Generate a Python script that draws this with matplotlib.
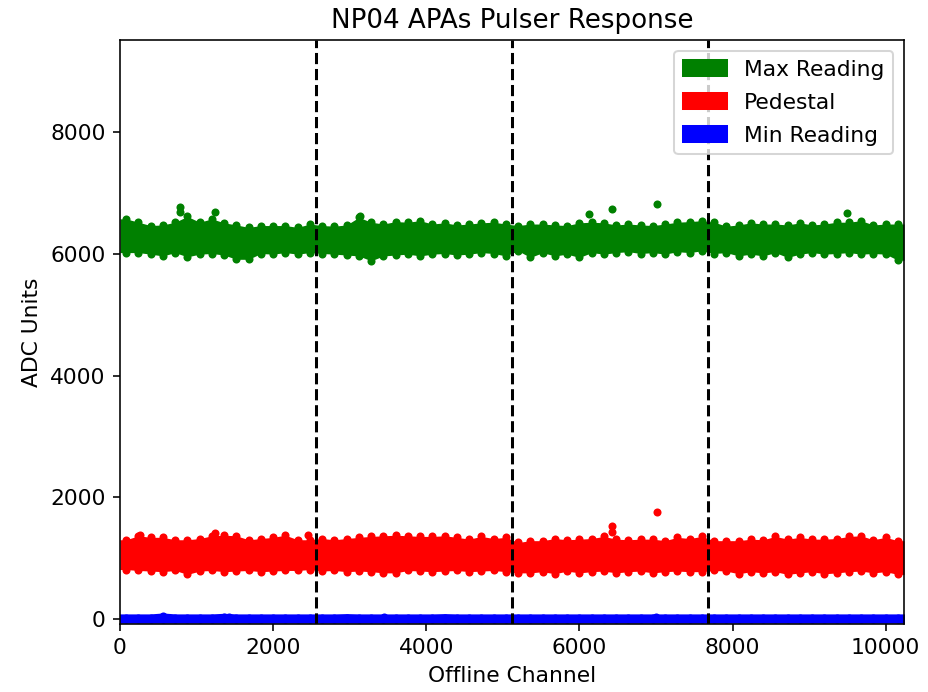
import numpy as np
import matplotlib
matplotlib.use("Agg")
import matplotlib.pyplot as plt
import matplotlib.patches as mpatches

plt.rcParams["font.size"] = 10.8

# Channel binning: 64 bins of 160 channels across 4 APAs (10240 channels)
n_channels = 10240
bin_width = 160
apa_boundaries = [2560, 5120, 7680]

# Upper / lower envelope of each reading per channel bin (ADC units)
max_hi = [6580, 6525, 6470, 6480, 6525, 6620, 6525, 6580, 6515, 6480, 6440, 6470, 6470, 6470, 6440, 6495,
          6470, 6460, 6480, 6605, 6525, 6495, 6535, 6525, 6550, 6495, 6515, 6480, 6495, 6515, 6525, 6495,
          6470, 6495, 6495, 6480, 6470, 6515, 6525, 6515, 6480, 6495, 6480, 6470, 6495, 6525, 6535, 6550,
          6525, 6460, 6480, 6515, 6495, 6495, 6480, 6515, 6480, 6495, 6525, 6525, 6550, 6480, 6495, 6495]
max_lo = [6025, 6025, 6000, 5970, 6025, 5955, 6000, 6010, 5985, 5915, 5915, 6010, 6000, 6025, 6000, 6025,
          6010, 6000, 5985, 5970, 5890, 5970, 5985, 6000, 5970, 6000, 6010, 5985, 6000, 6025, 6010, 5970,
          6055, 5945, 6025, 5970, 6000, 5945, 6025, 6000, 6025, 6040, 6010, 6025, 6000, 6040, 6025, 6055,
          6010, 6025, 5970, 6000, 5970, 6025, 5945, 6000, 6025, 6000, 6010, 6025, 6000, 6010, 6000, 5900]

ped_hi = [1305, 1370, 1345, 1345, 1305, 1305, 1325, 1370, 1380, 1370, 1305, 1325, 1345, 1380, 1305, 1305,
          1325, 1305, 1325, 1345, 1360, 1370, 1380, 1370, 1360, 1360, 1370, 1345, 1315, 1360, 1325, 1345,
          1260, 1290, 1290, 1325, 1305, 1315, 1325, 1360, 1315, 1305, 1315, 1315, 1290, 1345, 1325, 1360,
          1290, 1290, 1290, 1315, 1305, 1360, 1315, 1345, 1315, 1315, 1325, 1360, 1370, 1305, 1345, 1290]
ped_lo = [815, 800, 790, 780, 800, 735, 790, 800, 780, 790, 800, 780, 790, 800, 800, 815,
          790, 800, 780, 790, 780, 760, 760, 800, 790, 780, 790, 800, 780, 790, 800, 780,
          760, 760, 780, 745, 790, 760, 780, 790, 760, 780, 790, 760, 780, 790, 780, 780,
          800, 790, 745, 780, 760, 780, 735, 760, 780, 745, 760, 780, 790, 760, 780, 735]

min_hi = [20, 20, 20, 35, 20, 20, 20, 20, 30, 20, 20, 20, 20, 20, 20, 20,
          20, 20, 25, 20, 20, 20, 20, 20, 20, 20, 25, 20, 20, 20, 20, 20,
          20, 20, 20, 20, 20, 20, 20, 20, 20, 20, 20, 20, 20, 20, 20, 20,
          20, 20, 20, 20, 20, 20, 20, 20, 20, 20, 20, 20, 20, 20, 20, 20]
min_lo = [0] * 64

# Individual channels standing out of the bands (channel, ADC)
max_out_ch = [783, 790, 1240, 3133, 6120, 6420, 7010, 9490]
max_out_val = [6770, 6700, 6690, 6630, 6660, 6745, 6825, 6680]
ped_out_ch = [260, 1240, 2450, 6420, 6430, 7010]
ped_out_val = [1380, 1415, 1385, 1535, 1440, 1765]
min_out_ch = [560, 1420, 3450, 7000]
min_out_val = [45, 40, 30, 35]

series = [
    ("Max Reading", "green", max_hi, max_lo, max_out_ch, max_out_val),
    ("Pedestal", "red", ped_hi, ped_lo, ped_out_ch, ped_out_val),
    ("Min Reading", "blue", min_hi, min_lo, min_out_ch, min_out_val),
]

fig = plt.figure(figsize=(6.4, 692 / 145), dpi=145)
ax = fig.add_axes([120 / 928, 1 - 624 / 692, 784 / 928, 584 / 692])

centers = np.arange(len(max_hi)) * bin_width + bin_width / 2
xs = np.concatenate([[0], centers, [n_channels]])
msize = 16                      # marker area (pt^2), ~4 pt diameter
mdiam = np.sqrt(msize)

handles = []
for label, color, hi, lo, och, oval in series:
    hi = np.asarray(hi, float)
    lo = np.asarray(lo, float)
    top = np.concatenate([[hi[0]], hi, [hi[-1]]])
    bot = np.concatenate([[lo[0]], lo, [lo[-1]]])
    # a narrow band still shows the full marker thickness
    edge_w = mdiam if np.max(hi - lo) < 200 else 0
    ax.fill_between(xs, bot, top, facecolor=color, edgecolor=color,
                    linewidth=edge_w, zorder=2)
    ax.scatter(centers, hi, s=msize, color=color, linewidths=0, zorder=2)
    ax.scatter(centers, lo, s=msize, color=color, linewidths=0, zorder=2)
    ax.scatter(och, oval, s=msize, color=color, linewidths=0, zorder=2)
    handles.append(mpatches.Patch(color=color, label=label))

for b in apa_boundaries:
    ax.axvline(b, color="black", linestyle="--", linewidth=1.5, zorder=3)

ax.set_xlim(0, n_channels)
ax.set_ylim(-80, 9520)
ax.set_yticks([0, 2000, 4000, 6000, 8000])
ax.set_xticks([0, 2000, 4000, 6000, 8000, 10000])
ax.set_xlabel("Offline Channel")
ax.set_ylabel("ADC Units")
ax.set_title("NP04 APAs Pulser Response")
ax.legend(handles=handles, loc="upper right", handleheight=0.8, labelspacing=0.6)

fig.savefig("out.png", dpi=145)
